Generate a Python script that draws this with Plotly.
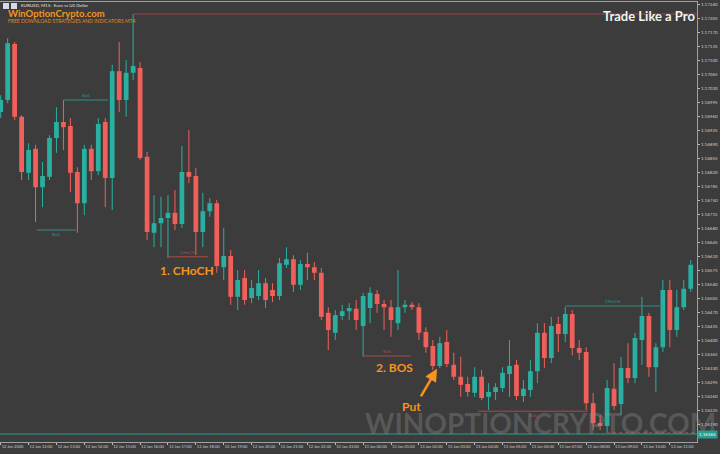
import plotly.graph_objects as go
import numpy as np

# ---------------- data (EURUSD M15) ----------------
open_ = [1.16970, 1.17000, 1.17140, 1.16958, 1.16818, 1.16878, 1.16782, 1.16808, 1.16905, 1.16945,
         1.16935, 1.16820, 1.16742, 1.16878, 1.16822, 1.16945, 1.16805, 1.17072, 1.17000, 1.17068,
         1.17080, 1.16858, 1.16668, 1.16692, 1.16705, 1.16718, 1.16690, 1.16820, 1.16810, 1.16670,
         1.16722, 1.16742, 1.16582, 1.16610, 1.16508, 1.16555, 1.16505, 1.16510, 1.16542, 1.16525,
         1.16510, 1.16588, 1.16602, 1.16538, 1.16590, 1.16582, 1.16568, 1.16468, 1.16418, 1.16460,
         1.16472, 1.16478, 1.16435, 1.16480, 1.16515, 1.16490, 1.16482, 1.16442, 1.16482, 1.16488,
         1.16482, 1.16420, 1.16385, 1.16335, 1.16395, 1.16338, 1.16308, 1.16290, 1.16268, 1.16308,
         1.16258, 1.16270, 1.16280, 1.16315, 1.16338, 1.16260, 1.16275, 1.16322, 1.16418, 1.16355,
         1.16440, 1.16415, 1.16465, 1.16380, 1.16370, 1.16242, 1.16192, 1.16185, 1.16278, 1.16240,
         1.16330, 1.16305, 1.16400, 1.16460, 1.16332, 1.16382, 1.16525, 1.16425, 1.16482, 1.16528]
high = [1.17012, 1.17155, 1.17145, 1.16962, 1.16892, 1.16888, 1.16845, 1.16912, 1.16982, 1.17000,
        1.16955, 1.16832, 1.16888, 1.16888, 1.16955, 1.16955, 1.17088, 1.17145, 1.17100, 1.17215,
        1.17095, 1.16870, 1.16762, 1.16758, 1.16762, 1.16775, 1.16885, 1.16925, 1.16830, 1.16768,
        1.16755, 1.16750, 1.16680, 1.16625, 1.16575, 1.16575, 1.16550, 1.16575, 1.16555, 1.16542,
        1.16605, 1.16632, 1.16612, 1.16600, 1.16618, 1.16595, 1.16580, 1.16482, 1.16475, 1.16488,
        1.16492, 1.16500, 1.16518, 1.16532, 1.16525, 1.16500, 1.16500, 1.16575, 1.16500, 1.16495,
        1.16492, 1.16432, 1.16400, 1.16408, 1.16425, 1.16368, 1.16358, 1.16308, 1.16332, 1.16325,
        1.16292, 1.16292, 1.16332, 1.16400, 1.16350, 1.16300, 1.16350, 1.16442, 1.16442, 1.16458,
        1.16458, 1.16482, 1.16475, 1.16400, 1.16382, 1.16268, 1.16212, 1.16300, 1.16342, 1.16358,
        1.16392, 1.16418, 1.16508, 1.16468, 1.16392, 1.16550, 1.16550, 1.16525, 1.16550, 1.16600]
low = [1.16955, 1.16992, 1.16950, 1.16800, 1.16800, 1.16695, 1.16732, 1.16800, 1.16868, 1.16875,
       1.16770, 1.16668, 1.16712, 1.16800, 1.16812, 1.16732, 1.16725, 1.16970, 1.16958, 1.17050,
       1.16850, 1.16650, 1.16632, 1.16632, 1.16605, 1.16675, 1.16680, 1.16792, 1.16612, 1.16632,
       1.16708, 1.16568, 1.16550, 1.16488, 1.16475, 1.16488, 1.16492, 1.16500, 1.16480, 1.16495,
       1.16500, 1.16580, 1.16520, 1.16525, 1.16550, 1.16550, 1.16450, 1.16375, 1.16400, 1.16450,
       1.16450, 1.16425, 1.16358, 1.16442, 1.16468, 1.16425, 1.16408, 1.16425, 1.16468, 1.16475,
       1.16400, 1.16368, 1.16325, 1.16330, 1.16332, 1.16300, 1.16258, 1.16258, 1.16258, 1.16250,
       1.16225, 1.16250, 1.16270, 1.16258, 1.16250, 1.16245, 1.16258, 1.16292, 1.16330, 1.16342,
       1.16370, 1.16395, 1.16362, 1.16350, 1.16225, 1.16175, 1.16175, 1.16168, 1.16225, 1.16212,
       1.16292, 1.16292, 1.16338, 1.16308, 1.16270, 1.16370, 1.16382, 1.16408, 1.16475, 1.16520]
close = [1.17000, 1.17142, 1.16958, 1.16820, 1.16875, 1.16782, 1.16810, 1.16905, 1.16945, 1.16932,
         1.16818, 1.16742, 1.16878, 1.16822, 1.16940, 1.16805, 1.17072, 1.17000, 1.17068, 1.17085,
         1.16855, 1.16670, 1.16692, 1.16705, 1.16718, 1.16690, 1.16820, 1.16808, 1.16670, 1.16722,
         1.16742, 1.16585, 1.16610, 1.16508, 1.16550, 1.16500, 1.16530, 1.16542, 1.16500, 1.16510,
         1.16592, 1.16602, 1.16538, 1.16590, 1.16582, 1.16568, 1.16458, 1.16425, 1.16462, 1.16472,
         1.16480, 1.16450, 1.16510, 1.16518, 1.16490, 1.16482, 1.16450, 1.16482, 1.16488, 1.16482,
         1.16418, 1.16382, 1.16335, 1.16392, 1.16340, 1.16308, 1.16288, 1.16270, 1.16308, 1.16255,
         1.16270, 1.16282, 1.16318, 1.16335, 1.16260, 1.16278, 1.16322, 1.16418, 1.16355, 1.16435,
         1.16415, 1.16465, 1.16380, 1.16368, 1.16242, 1.16192, 1.16185, 1.16280, 1.16235, 1.16330,
         1.16305, 1.16405, 1.16460, 1.16332, 1.16382, 1.16525, 1.16425, 1.16482, 1.16528, 1.16588]

x_tick_idx = [0, 4, 8, 12, 16, 20, 24, 28, 32, 36, 40, 44, 48, 52, 56, 60, 64, 68, 72, 76, 80, 84, 88, 92, 96]
x_tick_labels = ["12 Jan 2020", "12 Jan 12:00", "12 Jan 13:00", "12 Jan 14:00", "12 Jan 15:00",
                 "12 Jan 16:00", "12 Jan 17:00", "12 Jan 18:00", "12 Jan 19:00", "12 Jan 20:00",
                 "12 Jan 21:00", "12 Jan 22:00", "12 Jan 23:00", "13 Jan 00:00", "13 Jan 01:00",
                 "13 Jan 02:00", "13 Jan 03:00", "13 Jan 04:00", "13 Jan 05:00", "13 Jan 06:00",
                 "13 Jan 07:00", "13 Jan 08:00", "13 Jan 09:00", "13 Jan 10:00", "13 Jan 11:00"]
y_ticks = [1.17240, 1.17205, 1.17170, 1.17135, 1.17100, 1.17065, 1.17030, 1.16995, 1.16960, 1.16925,
           1.16890, 1.16855, 1.16820, 1.16785, 1.16750, 1.16715, 1.16680, 1.16645, 1.16610, 1.16575,
           1.16540, 1.16505, 1.16470, 1.16435, 1.16400, 1.16365, 1.16330, 1.16295, 1.16260, 1.16225,
           1.16190]

# structure levels: (start index, end index, price, label, kind, label above?)
bos_levels = [(9, 15.4, 1.17000, "BoS", "bull", True),
              (5.2, 10.8, 1.16675, "BoS", "bull", False),
              (24, 29.8, 1.16608, "CHoCH", "bear", True),
              (52, 58.8, 1.16360, "BoS", "bear", True),
              (68.5, 84.2, 1.16222, "BoS", "bear", False),
              (81, 94.6, 1.16485, "CHoCH", "bull", True)]
top_high_index = 19
weak_low_index = 87
bid_price = 1.16165

# ---------------- styling ----------------
BG = "#3c3c3c"
UP = "#2ab0a0"
DN = "#f0605a"
UP_LINE = "#2f8f84"
DN_LINE = "#a84a48"
ORANGE = "#f7931e"
FONT = "Lato, Roboto, sans-serif"
PW, PT, PB = 697, 2, 442  # plot area geometry in px

o = np.array(open_); h = np.array(high); l = np.array(low); c = np.array(close)
idx = np.arange(len(o))
bull = c >= o

fig = go.Figure()

# wicks
for mask, col in ((bull, UP), (~bull, DN)):
    xs, ys = [], []
    for i in idx[mask]:
        xs += [i, i, None]
        ys += [l[i], h[i], None]
    fig.add_trace(go.Scatter(x=xs, y=ys, mode="lines", line=dict(color=col, width=1),
                             hoverinfo="skip", showlegend=False))

# bodies
for mask, col in ((bull, UP), (~bull, DN)):
    base = np.minimum(o, c)[mask]
    height = np.maximum(np.abs(c - o)[mask], 0.00002)
    fig.add_trace(go.Bar(x=idx[mask], y=height, base=base, width=0.68,
                         marker=dict(color=col, line=dict(width=0)), showlegend=False))

# highest-high line
fig.add_trace(go.Scatter(x=[top_high_index, 99.9], y=[h[top_high_index]] * 2, mode="lines",
                         line=dict(color="#9e4646", width=1), hoverinfo="skip", showlegend=False))

# weak low line
fig.add_trace(go.Scatter(x=[weak_low_index, 99.9], y=[l[weak_low_index]] * 2, mode="lines",
                         line=dict(color="#a84a48", width=1, dash="dot"), hoverinfo="skip", showlegend=False))

# bid line
fig.add_trace(go.Scatter(x=[-0.1, 99.9], y=[bid_price] * 2, mode="lines",
                         line=dict(color="#2a9d8f", width=1), hoverinfo="skip", showlegend=False))

# structure lines
for x0, x1, p, lab, kind, above in bos_levels:
    col = UP_LINE if kind == "bull" else DN_LINE
    fig.add_trace(go.Scatter(x=[x0, x1], y=[p, p], mode="lines", line=dict(color=col, width=1),
                             hoverinfo="skip", showlegend=False))
    fig.add_annotation(x=(x0 + x1) / 2, y=p, text=lab, showarrow=False,
                       yanchor="bottom" if above else "top",
                       font=dict(size=4.5, color=col, family=FONT))


def paper_text(x, y, text, size, color, xanchor="left", bold=False):
    t = f"<b>{text}</b>" if bold else text
    fig.add_annotation(xref="paper", yref="paper", x=x / PW, y=(PB - y) / (PB - PT), text=t,
                       showarrow=False, xanchor=xanchor, yanchor="middle",
                       font=dict(size=size, color=color, family=FONT))


paper_text(19, 5.5, "EURUSD, M15:  Euro vs US Dollar", 4.5, "#e0e0e0")
paper_text(6, 13.5, "WinOptionCrypto.com", 9.5, ORANGE, bold=True)
paper_text(6, 21.5, "FREE DOWNLOAD STRATEGIES AND INDICATORS MT4", 5, "#e08a2a")
paper_text(601, 16, "Trade Like a Pro", 13, "#f2f2f2", bold=True)
paper_text(186.5, 270, "1. CHoCH", 12, ORANGE, xanchor="center", bold=True)
paper_text(394, 367, "2. BOS", 12, ORANGE, xanchor="center", bold=True)
paper_text(411.5, 406, "Put", 12, ORANGE, xanchor="center", bold=True)
paper_text(540, 423, "WINOPTIONCRYPTO.COM", 28, "rgba(150,150,150,0.33)", xanchor="center", bold=True)

# little header icons
for x0 in (3, 11):
    fig.add_shape(type="rect", xref="paper", yref="paper", x0=x0 / PW, x1=(x0 + 6) / PW,
                  y0=(PB - 9) / (PB - PT), y1=(PB - 3) / (PB - PT),
                  fillcolor="#d8d8e8", line=dict(width=0))

# arrow
fig.add_annotation(x=62.6, y=1.16328, ax=-17, ay=29, text="", showarrow=True,
                   arrowhead=2, arrowsize=1, arrowwidth=2.5, arrowcolor=ORANGE)

# bid label on axis
fig.add_annotation(xref="paper", x=1.0, y=bid_price, text=f"{bid_price:.5f}", showarrow=False,
                   xanchor="left", bgcolor="#2a9d8f", font=dict(size=4.5, color="white", family=FONT),
                   borderpad=1)

fig.update_layout(
    width=720, height=454,
    margin=dict(l=0, r=720 - PW, t=PT, b=454 - PB),
    paper_bgcolor=BG, plot_bgcolor=BG,
    barmode="overlay", showlegend=False,
    xaxis=dict(range=[-0.1, 99.9], tickvals=x_tick_idx, ticktext=x_tick_labels, tickangle=0,
               ticklabelposition="outside right", ticks="outside", ticklen=2, tickcolor="#bbbbbb",
               tickfont=dict(size=4, color="#d0d0d0", family=FONT), automargin=False,
               ticklabeloverflow="allow",
               showline=True, linecolor="#a0a0a0", linewidth=1, mirror=True,
               showgrid=False, zeroline=False, fixedrange=True),
    yaxis=dict(range=[1.16145, 1.17245], side="right", tickvals=y_ticks, tickformat=".5f",
               ticks="outside", ticklen=2, tickcolor="#bbbbbb", automargin=False,
               ticklabeloverflow="allow",
               tickfont=dict(size=4.5, color="#d0d0d0", family=FONT),
               showline=True, linecolor="#a0a0a0", linewidth=1, mirror=True,
               showgrid=False, zeroline=False, fixedrange=True),
)

fig.write_html("out.html", config={"displayModeBar": False},
               post_script="document.body.style.margin='0';document.body.style.background='%s';" % BG)
